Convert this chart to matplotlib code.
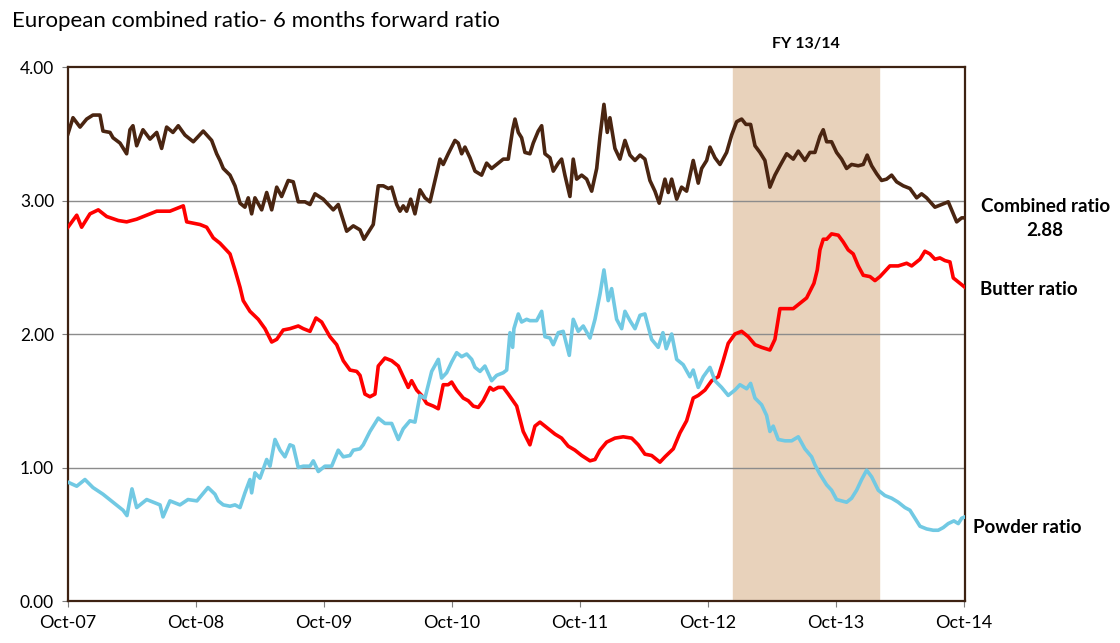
import matplotlib
matplotlib.use("Agg")
import matplotlib.pyplot as plt

# months since Oct-07
comb_m = [0.0, 0.47, 1.13, 1.75, 2.34, 3.0, 3.28, 3.94, 4.22, 4.88, 5.50, 5.81, 6.09, 6.44, 7.03,
          7.69, 8.32, 8.78, 9.25, 9.84, 10.34, 10.97, 11.75, 12.68, 13.47, 13.94, 14.25, 14.56,
          15.19, 15.66, 16.13, 16.59, 16.90, 17.22, 17.53, 18.16, 18.63, 19.10, 19.57, 20.03,
          20.65, 21.12, 21.59, 22.22, 22.69, 23.16, 23.93, 24.87, 25.34, 26.13, 26.75, 27.38,
          27.75, 28.15, 28.62, 29.09, 29.56, 30.03, 30.35, 30.82, 31.13, 31.43, 31.75, 32.13,
          32.53, 33.0, 33.47, 33.94, 34.41, 34.88, 35.18, 35.65, 36.28, 36.59, 36.91, 37.22,
          37.69, 38.16, 38.78, 39.25, 39.72, 40.19, 40.81, 41.28, 41.44, 41.69, 41.91, 42.22,
          42.53, 42.84, 43.31, 43.62, 44.09, 44.41, 44.72, 45.19, 45.50, 45.97, 46.28, 46.59,
          47.06, 47.37, 47.69, 48.16, 48.63, 49.10, 49.57, 49.88, 50.25, 50.56, 50.81, 51.28,
          51.75, 52.22, 52.69, 53.16, 53.63, 54.09, 54.56, 55.03, 55.43, 55.97, 56.28, 56.60,
          57.07, 57.53, 58.0, 58.62, 59.09, 59.41, 59.88, 60.19, 60.66, 61.13, 61.75, 62.22,
          62.69, 63.16, 63.56, 64.0, 64.41, 64.88, 65.34, 65.81, 66.28, 66.75, 67.38, 68.0,
          68.47, 69.09, 69.56, 70.03, 70.5, 70.81, 71.13, 71.59, 72.06, 72.53, 73.0, 73.47,
          74.09, 74.56, 74.93, 75.35, 75.82, 76.28, 76.75, 77.22, 77.69, 78.31, 78.94, 79.57,
          80.03, 80.5, 81.28, 81.91, 82.53, 83.0, 83.32, 83.79, 84.09]
comb_v = [3.50, 3.62, 3.55, 3.61, 3.64, 3.64, 3.52, 3.51, 3.47, 3.43, 3.35, 3.53, 3.56, 3.41, 3.53,
          3.46, 3.51, 3.39, 3.55, 3.51, 3.56, 3.49, 3.44, 3.52, 3.45, 3.35, 3.30, 3.24,
          3.19, 3.11, 2.98, 2.95, 3.02, 2.90, 3.02, 2.93, 3.06, 2.93, 3.10, 3.03,
          3.15, 3.14, 2.99, 2.99, 2.97, 3.05, 3.01, 2.93, 2.97, 2.77, 2.81, 2.78,
          2.71, 2.76, 2.82, 3.11, 3.11, 3.09, 3.10, 2.97, 2.92, 2.96, 2.92, 3.01,
          2.90, 3.08, 3.02, 2.99, 3.15, 3.31, 3.27, 3.35, 3.45, 3.43, 3.35, 3.40,
          3.32, 3.22, 3.19, 3.28, 3.24, 3.27, 3.31, 3.31, 3.40, 3.53, 3.61, 3.51,
          3.47, 3.36, 3.35, 3.43, 3.52, 3.56, 3.35, 3.32, 3.22, 3.28, 3.31, 3.19,
          3.03, 3.31, 3.16, 3.19, 3.16, 3.07, 3.24, 3.48, 3.72, 3.51, 3.62, 3.39,
          3.31, 3.45, 3.34, 3.30, 3.34, 3.31, 3.15, 3.07, 2.98, 3.16, 3.06, 3.16,
          3.01, 3.10, 3.07, 3.30, 3.13, 3.24, 3.30, 3.40, 3.32, 3.27, 3.36, 3.49,
          3.59, 3.61, 3.57, 3.57, 3.41, 3.36, 3.30, 3.10, 3.19, 3.26, 3.35, 3.31,
          3.37, 3.30, 3.36, 3.36, 3.48, 3.53, 3.44, 3.44, 3.36, 3.31, 3.24, 3.27,
          3.26, 3.27, 3.34, 3.26, 3.20, 3.15, 3.16, 3.19, 3.14, 3.11, 3.09, 3.02,
          3.05, 3.02, 2.95, 2.97, 2.99, 2.90, 2.84, 2.87, 2.87]

butter_m = [0.0, 0.82, 1.28, 2.06, 2.84, 3.63, 4.72, 5.50, 6.44, 7.38, 8.32, 9.56, 10.81, 11.13,
            12.38, 13.0, 13.62, 14.25, 15.19, 15.66, 16.13, 16.43, 17.06, 17.84, 18.47, 19.10,
            19.57, 20.18, 20.81, 21.59, 22.06, 22.69, 23.25, 23.78, 24.56, 25.19, 25.81, 26.44,
            27.07, 27.38, 27.84, 28.31, 28.78, 29.09, 29.72, 30.35, 30.97, 31.43, 31.90, 32.22,
            32.69, 33.16, 33.63, 34.25, 34.72, 35.18, 35.65, 35.97, 36.44, 37.06, 37.53, 38.0,
            38.47, 38.93, 39.56, 39.87, 40.34, 40.81, 41.28, 42.07, 42.68, 43.31, 43.78, 44.25,
            44.88, 45.66, 46.28, 46.90, 47.53, 48.16, 48.94, 49.41, 49.88, 50.50, 51.28, 52.06,
            52.85, 53.47, 54.09, 54.72, 55.5, 55.97, 56.75, 57.38, 58.0, 58.62, 59.09, 59.72,
            60.35, 60.97, 61.43, 61.90, 62.53, 63.16, 63.78, 64.41, 65.03, 65.81, 66.28, 66.75,
            67.38, 68.0, 68.63, 69.25, 69.94, 70.25, 70.5, 70.81, 71.13, 71.59, 72.22, 72.68,
            73.15, 73.62, 74.09, 74.56, 75.19, 75.66, 76.13, 76.59, 77.06, 77.84, 78.63, 79.10,
            79.88, 80.34, 80.81, 81.28, 81.75, 82.22, 82.69, 83.0, 83.47, 84.09]
butter_v = [2.80, 2.89, 2.80, 2.90, 2.93, 2.88, 2.85, 2.84, 2.86, 2.89, 2.92, 2.92, 2.96, 2.84,
            2.82, 2.80, 2.72, 2.68, 2.60, 2.48, 2.35, 2.25, 2.17, 2.11, 2.04, 1.94,
            1.96, 2.03, 2.04, 2.06, 2.04, 2.02, 2.12, 2.09, 1.98, 1.92, 1.80, 1.73,
            1.72, 1.69, 1.55, 1.53, 1.55, 1.76, 1.82, 1.80, 1.76, 1.68, 1.60, 1.65,
            1.58, 1.54, 1.48, 1.46, 1.44, 1.62, 1.62, 1.64, 1.58, 1.52, 1.50, 1.46,
            1.45, 1.50, 1.60, 1.58, 1.60, 1.60, 1.55, 1.46, 1.27, 1.17, 1.31, 1.34,
            1.30, 1.25, 1.22, 1.16, 1.13, 1.09, 1.05, 1.06, 1.13, 1.19, 1.22, 1.23,
            1.22, 1.17, 1.10, 1.09, 1.04, 1.08, 1.14, 1.26, 1.35, 1.52, 1.54, 1.58,
            1.65, 1.68, 1.80, 1.93, 2.00, 2.02, 1.98, 1.92, 1.90, 1.88, 1.96, 2.19,
            2.19, 2.19, 2.23, 2.27, 2.38, 2.48, 2.63, 2.71, 2.71, 2.75, 2.74, 2.69,
            2.63, 2.60, 2.51, 2.44, 2.43, 2.40, 2.43, 2.47, 2.51, 2.51, 2.53, 2.51,
            2.56, 2.62, 2.60, 2.56, 2.57, 2.55, 2.54, 2.42, 2.39, 2.35]

powder_m = [0.0, 0.82, 1.59, 2.34, 3.28, 4.22, 5.16, 5.53, 6.0, 6.44, 7.38, 8.63, 8.91, 9.56, 10.5,
            11.25, 12.09, 13.13, 13.78, 14.09, 14.56, 15.19, 15.66, 16.13, 16.59, 17.06, 17.22,
            17.53, 18.0, 18.63, 18.94, 19.41, 19.88, 20.34, 20.81, 21.12, 21.59, 22.06, 22.69,
            23.0, 23.47, 24.09, 24.72, 25.34, 25.81, 26.44, 26.75, 27.38, 27.68, 28.31, 29.09,
            29.72, 30.35, 30.97, 31.43, 32.06, 32.53, 33.0, 33.47, 34.10, 34.72, 35.03, 35.50,
            35.97, 36.44, 36.91, 37.38, 37.85, 38.16, 38.63, 39.09, 39.72, 40.19, 40.81, 41.13,
            41.44, 41.69, 41.81, 42.22, 42.53, 43.0, 43.31, 43.94, 44.41, 44.72, 45.19, 45.50,
            45.97, 46.43, 47.0, 47.37, 47.84, 48.31, 48.94, 49.41, 49.88, 50.25, 50.65, 50.97,
            51.44, 51.91, 52.22, 52.69, 53.16, 53.63, 54.09, 54.72, 55.34, 55.78, 56.09, 56.60,
            57.07, 57.68, 58.31, 58.62, 59.09, 59.56, 60.19, 60.66, 61.28, 61.90, 62.53, 63.0,
            63.63, 64.0, 64.41, 65.03, 65.50, 65.81, 66.12, 66.59, 67.22, 67.85, 68.47, 69.09,
            69.72, 70.03, 70.5, 71.13, 71.59, 72.06, 72.53, 73.0, 73.47, 73.94, 74.41, 74.88,
            75.35, 75.97, 76.59, 77.22, 77.84, 78.47, 78.94, 79.41, 79.88, 80.5, 81.12, 81.59,
            82.06, 82.53, 83.06, 83.47, 83.79, 84.09]
powder_v = [0.89, 0.86, 0.91, 0.85, 0.80, 0.74, 0.68, 0.64, 0.84, 0.70, 0.76, 0.72, 0.63, 0.75, 0.72,
            0.76, 0.75, 0.85, 0.80, 0.75, 0.72, 0.71, 0.72, 0.70, 0.81, 0.91, 0.81,
            0.96, 0.92, 1.06, 1.01, 1.21, 1.13, 1.08, 1.17, 1.16, 1.00, 1.01, 1.01,
            1.05, 0.97, 1.01, 1.01, 1.13, 1.08, 1.09, 1.13, 1.14, 1.17, 1.27, 1.37,
            1.33, 1.33, 1.21, 1.29, 1.35, 1.34, 1.54, 1.52, 1.72, 1.81, 1.67, 1.71,
            1.79, 1.86, 1.83, 1.85, 1.81, 1.75, 1.72, 1.76, 1.65, 1.69, 1.71, 1.73,
            2.01, 1.90, 2.04, 2.15, 2.09, 2.11, 2.10, 2.10, 2.17, 1.98, 1.97, 1.92,
            2.01, 2.02, 1.84, 2.11, 2.02, 2.06, 1.97, 2.11, 2.30, 2.48, 2.25, 2.34,
            2.11, 2.04, 2.17, 2.10, 2.04, 2.14, 2.15, 1.96, 1.90, 2.01, 1.89, 2.00,
            1.81, 1.77, 1.68, 1.73, 1.60, 1.68, 1.75, 1.65, 1.60, 1.54, 1.58, 1.62,
            1.59, 1.63, 1.52, 1.47, 1.39, 1.27, 1.31, 1.21, 1.20, 1.20, 1.23, 1.14,
            1.08, 1.02, 0.95, 0.87, 0.83, 0.76, 0.75, 0.74, 0.77, 0.83, 0.91, 0.98,
            0.93, 0.83, 0.79, 0.77, 0.74, 0.70, 0.68, 0.62, 0.56, 0.54, 0.53, 0.53,
            0.55, 0.58, 0.60, 0.58, 0.62, 0.63]

tick_pos = [0, 12, 24, 36, 48, 60, 72, 84]
tick_labels = ["Oct-07", "Oct-08", "Oct-09", "Oct-10", "Oct-11", "Oct-12", "Oct-13", "Oct-14"]
fy_span = (62.34, 76.03)
last_combined = 2.88

plt.rcParams["font.family"] = ["Lato", "DejaVu Sans"]
frame_col = "#3d2212"

fig = plt.figure(figsize=(11.2, 6.43), dpi=100)
ax = fig.add_axes([0.0607, 0.0653, 0.8009, 0.8305])

ax.axvspan(fy_span[0], fy_span[1], color="#e8d2bb", zorder=0)
for y in [1, 2, 3]:
    ax.axhline(y, color="#8c8c8c", lw=1, zorder=1)

ax.plot(comb_m, comb_v, color="#4a2511", lw=2.6, zorder=3)
ax.plot(butter_m, butter_v, color="#ff0000", lw=2.6, zorder=3)
ax.plot(powder_m, powder_v, color="#71c9e3", lw=2.6, zorder=3)

ax.set_xlim(0, 84.1)
ax.set_ylim(0, 4)
ax.set_yticks([0, 1, 2, 3, 4])
ax.set_yticklabels(["0.00", "1.00", "2.00", "3.00", "4.00"], fontsize=12.5)
ax.set_xticks(tick_pos)
ax.set_xticklabels(tick_labels, fontsize=13)
ax.tick_params(axis="both", direction="out", length=4, color="#7f7f7f", pad=6)

for s in ax.spines.values():
    s.set_color(frame_col)
    s.set_linewidth(1.6)

fig.text(0.011, 0.968, "European combined ratio- 6 months forward ratio", fontsize=16, va="center")
ax.text((fy_span[0] + fy_span[1]) / 2, 4.17, "FY 13/14", ha="center", va="center",
        fontsize=11.5, fontweight="bold")

fig.text(0.9915, 0.679, "Combined ratio", ha="right", va="center", fontsize=13.5, fontweight="bold")
fig.text(0.933, 0.642, f"{last_combined:.2f}", ha="center", va="center", fontsize=13.5, fontweight="bold")
fig.text(0.875, 0.549, "Butter ratio", ha="left", va="center", fontsize=13.5, fontweight="bold")
fig.text(0.869, 0.179, "Powder ratio", ha="left", va="center", fontsize=13.5, fontweight="bold")

fig.savefig("out.png", dpi=100)
